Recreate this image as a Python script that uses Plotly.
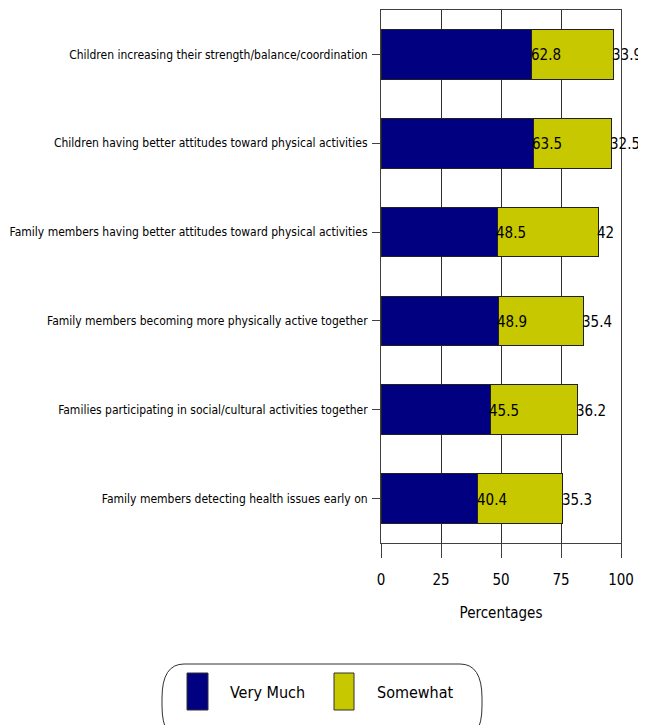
import plotly.graph_objects as go

categories = [
    "Children increasing their strength/balance/coordination",
    "Children having better attitudes toward physical activities",
    "Family members having better attitudes toward physical activities",
    "Family members becoming more physically active together",
    "Families participating in social/cultural activities together",
    "Family members detecting health issues early on",
]
very_much = [62.8, 63.5, 48.5, 48.9, 45.5, 40.4]
somewhat = [33.9, 32.5, 42, 35.4, 36.2, 35.3]
series_names = ["Very Much", "Somewhat"]
x_ticks = [0, 25, 50, 75, 100]
x_title = "Percentages"

NAVY = "#000080"
YELLOW = "#C8C800"
FONT = "DejaVu Sans Condensed, Liberation Sans, sans-serif"

OFF = 8  # page body margin
W, H = 646 - OFF, 725 - OFF
L, R, T, B = 381 - OFF, 621 - OFF, 10 - OFF, 543 - OFF


def px_x(p):
    return (p - OFF - L) / (R - L)


def px_y(p):
    return (B - (p - OFF)) / (B - T)


fig = go.Figure()
fig.add_trace(go.Bar(y=categories, x=very_much, orientation="h", name=series_names[0],
                     marker=dict(color=NAVY, line=dict(color="#202020", width=1)),
                     showlegend=False, hoverinfo="x+y"))
fig.add_trace(go.Bar(y=categories, x=somewhat, orientation="h", name=series_names[1],
                     marker=dict(color=YELLOW, line=dict(color="#202020", width=1)),
                     showlegend=False, hoverinfo="x+y"))

annotations = []
for c, v, s in zip(categories, very_much, somewhat):
    annotations.append(dict(x=v, y=c, xref="x", yref="y", text=f"{v:g}", showarrow=False,
                            xanchor="left", yanchor="middle", xshift=-3, yshift=-1,
                            font=dict(family=FONT, size=15, color="black")))
    annotations.append(dict(x=v + s, y=c, xref="x", yref="y", text=f"{s:g}", showarrow=False,
                            xanchor="left", yanchor="middle", xshift=-3, yshift=-1,
                            font=dict(family=FONT, size=15, color="black")))

# manual legend
shapes = []
lt, lb, ll, lr, rx, ry = 664, 740, 162, 482, 22, 34
path = (f"M {px_x(ll+rx)},{px_y(lt)} L {px_x(lr-rx)},{px_y(lt)} "
        f"Q {px_x(lr)},{px_y(lt)} {px_x(lr)},{px_y(lt+ry)} L {px_x(lr)},{px_y(lb-ry)} "
        f"Q {px_x(lr)},{px_y(lb)} {px_x(lr-rx)},{px_y(lb)} L {px_x(ll+rx)},{px_y(lb)} "
        f"Q {px_x(ll)},{px_y(lb)} {px_x(ll)},{px_y(lb-ry)} L {px_x(ll)},{px_y(lt+ry)} "
        f"Q {px_x(ll)},{px_y(lt)} {px_x(ll+rx)},{px_y(lt)} Z")
shapes.append(dict(type="path", xref="paper", yref="paper", path=path,
                   line=dict(color="#303030", width=1), fillcolor="rgba(0,0,0,0)"))
for (x0, x1, col, tx, name) in [(187, 208, NAVY, 228, series_names[0]),
                                (334, 354, YELLOW, 375, series_names[1])]:
    shapes.append(dict(type="rect", xref="paper", yref="paper",
                       x0=px_x(x0), x1=px_x(x1), y0=px_y(710), y1=px_y(673),
                       fillcolor=col, line=dict(color="#303030", width=1)))
    annotations.append(dict(x=px_x(tx), y=px_y(692), xref="paper", yref="paper", text=name,
                            showarrow=False, xanchor="left", yanchor="middle",
                            font=dict(family=FONT, size=16, color="black")))

fig.update_layout(
    width=W, height=H,
    margin=dict(l=L, r=W - R, t=T, b=H - B),
    barmode="stack", bargap=0.44,
    plot_bgcolor="white", paper_bgcolor="white",
    font=dict(family=FONT, color="black"),
    showlegend=False,
    annotations=annotations,
    shapes=shapes,
    xaxis=dict(range=[0, 100], tickvals=x_ticks, ticktext=[str(t) for t in x_ticks],
               showgrid=True, gridcolor="#303030", gridwidth=1,
               showline=True, linecolor="#404040", linewidth=1, mirror=True,
               ticks="outside", ticklen=14, tickcolor="#404040", ticklabelstandoff=9,
               tickfont=dict(family=FONT, size=15, color="black"),
               title=dict(text=x_title, font=dict(family=FONT, size=15, color="black"), standoff=19),
               zeroline=False, fixedrange=True, automargin=False),
    yaxis=dict(autorange="reversed", showgrid=False,
               showline=True, linecolor="#404040", linewidth=1, mirror=True,
               ticks="outside", ticklen=8, tickcolor="#404040", ticklabelstandoff=2,
               tickfont=dict(family=FONT, size=12, color="black"),
               fixedrange=True, automargin=False),
)

fig.write_html("out.html")
